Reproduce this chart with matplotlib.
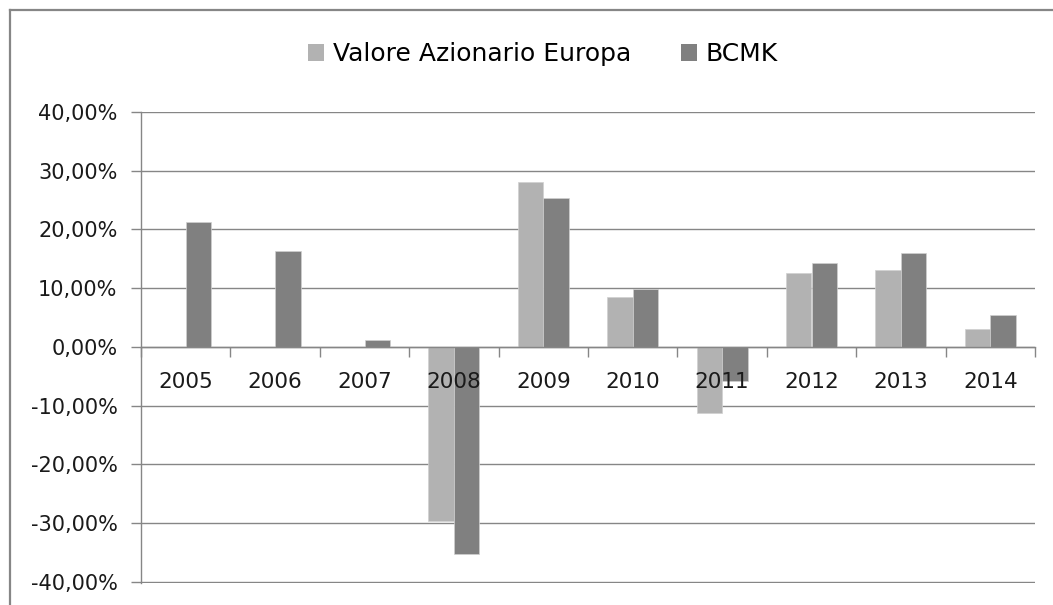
import numpy as np
import matplotlib
matplotlib.use("Agg")
import matplotlib.pyplot as plt
from matplotlib.lines import Line2D
from matplotlib.patches import Patch
from matplotlib.ticker import FuncFormatter, MultipleLocator

matplotlib.rcParams.update({"font.family": "DejaVu Sans"})

YEARS = ["2005", "2006", "2007", "2008", "2009", "2010", "2011", "2012", "2013", "2014"]
VALORE_EUROPA = [np.nan, np.nan, np.nan, -0.296, 0.280, 0.084, -0.112, 0.126, 0.131, 0.030]
BCMK = [0.212, 0.164, 0.011, -0.353, 0.253, 0.099, -0.059, 0.142, 0.159, 0.054]
SERIES = ["Valore Azionario Europa", "BCMK"]
COLORS = ["#B2B2B2", "#808080"]
GRID = "#868686"

W, H = 1053, 605
fig = plt.figure(figsize=(W / 100, H / 100), dpi=100)
ax = fig.add_axes([141 / W, 1 - 582.5 / H, (1035 - 141) / W, (582.5 - 112) / H])

x = np.arange(len(YEARS))
bw = 1 / 3.5
for k, (vals, col) in enumerate(zip([VALORE_EUROPA, BCMK], COLORS)):
    ax.bar(x + (k - 0.5) * bw, vals, width=bw, color=col,
           edgecolor="#D0D0D0", linewidth=0.5, zorder=3)

ax.set_xlim(-0.5, len(YEARS) - 0.5)
ax.set_ylim(-0.4015, 0.4)
ax.yaxis.set_major_locator(MultipleLocator(0.1))
ax.yaxis.set_major_formatter(FuncFormatter(lambda v, _: f"{v * 100:.2f}%".replace(".", ",")))
ax.grid(axis="y", color=GRID, linewidth=1.0)
ax.set_axisbelow(True)
# category labels sit on top of the bars, like in Excel
ax.xaxis.set_zorder(5)

for s in ["top", "right"]:
    ax.spines[s].set_visible(False)
ax.spines["left"].set_color(GRID)
ax.spines["left"].set_linewidth(1.0)
ax.spines["bottom"].set_position(("data", 0))
ax.spines["bottom"].set_color(GRID)
ax.spines["bottom"].set_linewidth(1.0)
ax.spines["bottom"].set_zorder(4)

ax.set_xticks(x)
ax.set_xticklabels(YEARS, fontsize=15.5, color="#1A1A1A")
ax.set_xticks(np.arange(-0.5, len(YEARS), 1), minor=True)
ax.tick_params(axis="x", which="major", length=0, pad=18)
ax.tick_params(axis="x", which="minor", length=7, color=GRID, width=1.0)
ax.tick_params(axis="y", length=7, color=GRID, width=1.0, labelsize=15,
               labelcolor="#1A1A1A", pad=10)

handles = [Patch(facecolor=c, edgecolor="none") for c in COLORS]
fig.legend(handles, SERIES, loc="center", bbox_to_anchor=(543 / W, 1 - 54 / H),
           ncol=2, frameon=False, fontsize=18, handlelength=0.65, handleheight=0.65,
           handletextpad=0.35, columnspacing=2.0)

# outer chart frame (cropped at right and bottom)
fig.add_artist(Line2D([10 / W, 1], [1 - 10 / H, 1 - 10 / H], color=GRID, lw=1.6))
fig.add_artist(Line2D([10 / W, 10 / W], [0, 1 - 10 / H], color=GRID, lw=1.6))

fig.savefig("out.png", dpi=100)
